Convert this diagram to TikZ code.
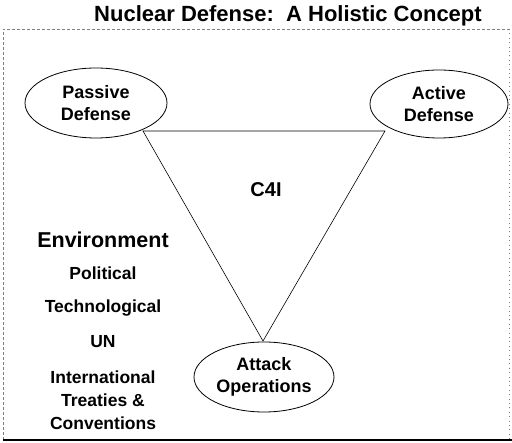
\documentclass[tikz,border=0pt]{standalone}
\usepackage{fontspec}
\setmainfont{Liberation Sans}
\usetikzlibrary{shapes.geometric}

\begin{document}
\begin{tikzpicture}
[x=1pt,y=-1pt,
  nodeDecorate/.style={shape=ellipse,draw,thick,inner sep=0pt,align=center,
    font=\fontsize{18}{22}\selectfont\bfseries},%
  lineDecorate/.style={-,semithick},
  envDecorate/.style={font=\fontsize{17.5}{20}\selectfont\bfseries}]
\useasboundingbox (0,0) rectangle (512,443);
%% frame
\draw[densely dashed,thin,gray] (3,440) -- (3,29) -- (509,29);
\draw[loosely dotted,thin,gray] (509,29) -- (509,440);
\draw[line width=1.2pt] (3,440) -- (512,440);
%% title
\node (title) at (288,16) {\fontsize{22}{24}\selectfont\bfseries Nuclear Defense:\ \ A Holistic Concept};
%% nodes or vertices
\node (passive) at (96,103) [nodeDecorate,minimum width=142pt,minimum height=70pt]
  {Passive\\Defense};
\node (active) at (439,104) [nodeDecorate,minimum width=138pt,minimum height=68pt]
  {Active\\Defense};
\node (attack) at (264,377) [nodeDecorate,minimum width=140pt,minimum height=70pt]
  {Attack\\Operations};
\node (cfouri) at (266,190) [font=\fontsize{20}{22}\selectfont\bfseries] {C4I};
%% corners of the triangle
\coordinate (pcorner) at (143,131);
\coordinate (acorner) at (385,131);
\coordinate (ocorner) at (263,341);
%% edges or lines
\draw[lineDecorate] (pcorner) -- (acorner) -- (ocorner) -- cycle;
%% environment
\node (env) at (103,240) [font=\fontsize{21.5}{24}\selectfont\bfseries] {Environment};
\foreach \nodename/\y/\txt in {
  pol/273/Political, tech/308/Technological, un/342/UN,
  intl/377/International, treat/400/Treaties \&, conv/423/Conventions}
{
  \node (\nodename) at (103,\y) [envDecorate] {\txt};
}
\end{tikzpicture}
\end{document}
